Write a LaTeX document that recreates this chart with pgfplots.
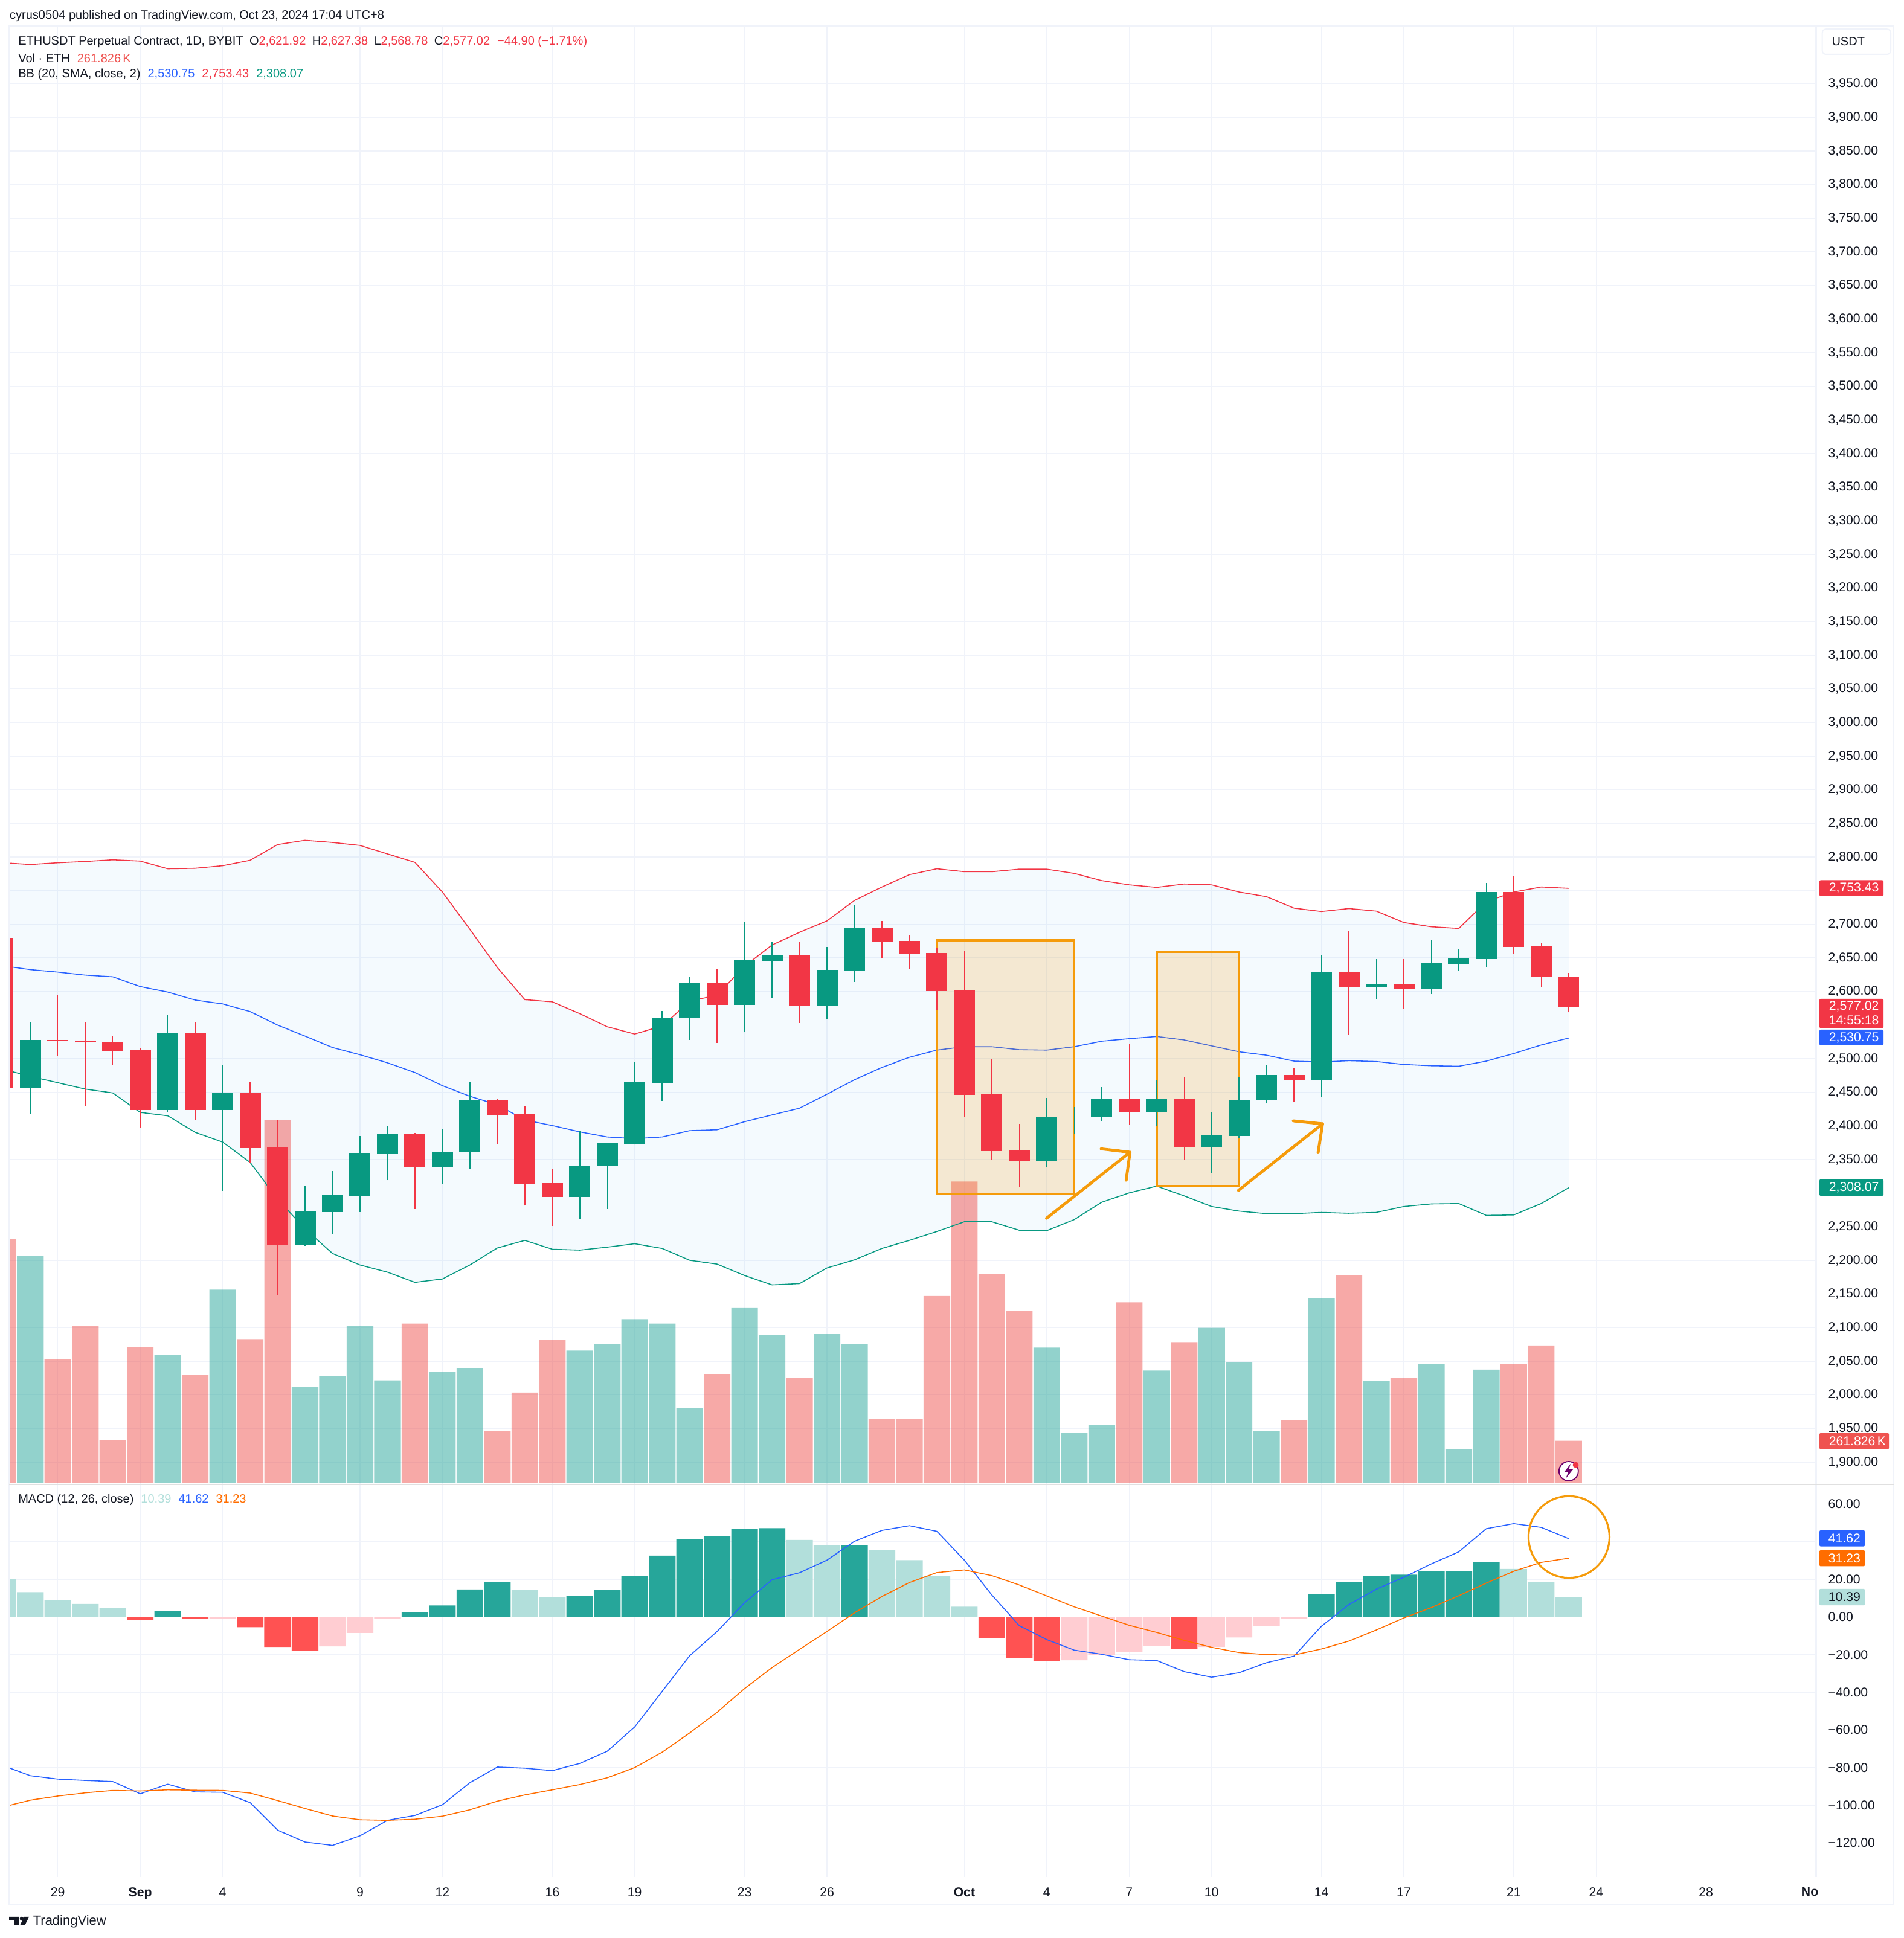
\documentclass[border=0pt]{standalone}
\usepackage{fontspec}
\setmainfont{Liberation Sans}
\usepackage{pgfplots}
\usepackage{pgfplotstable}
\pgfplotsset{compat=1.18}
\definecolor{cgreen}{HTML}{089981}
\definecolor{cred}{HTML}{F23645}
\definecolor{cblue}{HTML}{2962FF}
\definecolor{corange}{HTML}{FF6D00}
\definecolor{ctext}{HTML}{131722}
\definecolor{cgrid}{HTML}{F0F3FA}
\definecolor{cband}{HTML}{2196F3}
\definecolor{vgreen}{HTML}{26A69A}
\definecolor{vred}{HTML}{EF5350}
\definecolor{hdg}{HTML}{26A69A}
\definecolor{hlg}{HTML}{B2DFDB}
\definecolor{hdr}{HTML}{FF5252}
\definecolor{hlr}{HTML}{FFCDD2}
\definecolor{cann}{HTML}{F59B0B}
\newcommand\tvf{\fontsize{5.3pt}{6.5pt}\selectfont}
\newcommand\hdf{\fontsize{5.0pt}{6.5pt}\selectfont}
% candles: i low bodybottom bodytop high
\pgfplotstableread{
i lo bot top hi
0 2418.3 2456.1 2527.9 2555.0
5 2421.4 2423.9 2538.0 2565.7
7 2303.5 2423.9 2449.8 2490.1
10 2221.6 2223.5 2272.7 2311.1
11 2239.3 2272.0 2297.2 2333.2
12 2272.0 2296.0 2359.0 2384.8
13 2319.3 2358.4 2388.6 2399.3
15 2314.3 2339.5 2361.5 2395.0
16 2336.3 2360.9 2439.1 2466.2
20 2261.9 2294.1 2341.4 2393.0
21 2276.4 2340.1 2374.1 2375.4
22 2372.2 2373.5 2464.9 2494.5
23 2437.2 2464.3 2561.3 2571.4
24 2527.9 2560.0 2612.4 2622.5
26 2539.3 2580.2 2646.4 2703.8
27 2591.0 2645.8 2654.0 2673.5
29 2558.2 2579.0 2631.9 2666.6
30 2614.3 2631.3 2694.3 2729.0
37 2338.2 2348.3 2413.8 2441.6
38 2388.0 2413.2 2413.8 2428.3
39 2406.9 2413.2 2439.7 2457.9
41 2399.3 2420.8 2439.7 2467.4
43 2329.4 2369.1 2386.1 2420.8
44 2381.1 2384.8 2439.1 2473.1
45 2433.4 2437.8 2475.6 2490.1
47 2442.8 2467.4 2629.4 2654.6
49 2589.0 2606.1 2610.5 2648.3
51 2596.0 2604.2 2642.0 2677.3
52 2631.3 2641.4 2648.9 2663.4
53 2635.7 2648.3 2747.9 2761.7
}\candlegreen
\pgfplotstableread{
i lo bot top hi
-1 2456.1 2456.1 2679.8 2679.8
1 2504.6 2526.0 2527.9 2595.4
2 2429.6 2524.1 2527.3 2555.0
3 2491.4 2511.5 2525.4 2534.2
4 2397.4 2423.9 2512.8 2515.9
6 2409.4 2423.9 2538.0 2553.8
8 2345.8 2367.2 2449.8 2464.9
9 2149.1 2223.5 2367.8 2408.8
14 2276.4 2339.5 2388.6 2389.3
17 2373.5 2416.4 2439.1 2441.0
18 2281.5 2314.3 2417.6 2429.6
19 2251.2 2294.1 2314.9 2335.7
25 2523.5 2580.2 2612.4 2633.2
28 2553.1 2579.0 2654.0 2674.1
31 2648.9 2674.1 2694.3 2705.0
32 2633.8 2656.5 2675.4 2683.6
33 2572.7 2600.4 2657.1 2664.1
34 2413.2 2446.0 2601.7 2660.3
35 2350.2 2362.8 2447.2 2498.9
36 2309.9 2348.3 2363.4 2403.1
40 2401.9 2420.8 2439.7 2521.6
42 2350.2 2369.1 2439.7 2473.1
46 2435.3 2467.4 2475.6 2485.7
48 2536.1 2606.1 2629.4 2689.9
50 2574.6 2604.2 2610.5 2648.3
54 2656.5 2666.6 2747.9 2771.2
55 2606.1 2621.2 2667.2 2672.9
56 2568.78 2577.02 2621.92 2627.38
}\candlered
% Bollinger bands
\pgfplotstableread{
i up mid low
-1 2791.4 2638.2 2484.4
0 2788.8 2632.5 2473.7
1 2791.4 2628.8 2464.3
2 2793.3 2624.3 2454.8
3 2795.8 2621.8 2449.1
4 2793.9 2607.3 2420.1
5 2782.5 2599.1 2415.1
6 2783.2 2587.2 2390.5
7 2787.0 2581.5 2376.0
8 2795.1 2570.1 2345.8
9 2818.5 2550.0 2291.0
10 2824.8 2533.6 2246.8
11 2821.6 2516.6 2210.3
12 2817.2 2505.9 2193.2
13 2804.6 2493.9 2182.5
14 2792.0 2479.4 2167.4
15 2747.9 2459.9 2172.4
16 2692.4 2444.1 2193.2
17 2635.7 2431.5 2218.5
18 2587.8 2408.8 2229.8
19 2584.6 2400.6 2216.6
20 2567.0 2391.2 2215.3
21 2547.5 2383.6 2219.7
22 2536.7 2381.1 2224.8
23 2548.7 2383.6 2217.8
24 2585.3 2393.0 2200.2
25 2594.7 2394.3 2194.5
26 2637.6 2406.3 2177.5
27 2669.1 2416.4 2163.6
28 2688.0 2426.4 2165.5
29 2705.0 2447.2 2188.8
30 2735.3 2468.7 2200.8
31 2755.4 2487.0 2217.8
32 2773.7 2502.1 2229.8
33 2782.5 2512.8 2243.0
34 2778.1 2517.8 2257.5
35 2778.1 2517.8 2257.5
36 2781.9 2513.4 2244.9
37 2781.9 2512.8 2244.3
38 2775.6 2517.8 2260.7
39 2764.9 2526.0 2286.5
40 2758.6 2529.8 2300.4
41 2754.8 2533.0 2310.5
42 2759.8 2527.9 2296.0
43 2758.6 2519.1 2280.2
44 2747.9 2510.3 2273.3
45 2741.0 2505.2 2269.5
46 2723.9 2496.4 2269.5
47 2718.9 2495.1 2271.4
48 2723.3 2497.0 2270.1
49 2719.5 2495.8 2271.4
50 2702.5 2491.4 2280.2
51 2696.2 2489.5 2284.0
52 2693.7 2488.8 2284.6
53 2733.4 2496.4 2267.0
54 2747.9 2507.7 2267.6
55 2755.4 2520.4 2284.6
56 2753.43 2530.75 2308.07
}\bands
% outline of the band: upper forward, lower back
\pgfplotstableread{
i v
-1 2791.4
0 2788.8
1 2791.4
2 2793.3
3 2795.8
4 2793.9
5 2782.5
6 2783.2
7 2787.0
8 2795.1
9 2818.5
10 2824.8
11 2821.6
12 2817.2
13 2804.6
14 2792.0
15 2747.9
16 2692.4
17 2635.7
18 2587.8
19 2584.6
20 2567.0
21 2547.5
22 2536.7
23 2548.7
24 2585.3
25 2594.7
26 2637.6
27 2669.1
28 2688.0
29 2705.0
30 2735.3
31 2755.4
32 2773.7
33 2782.5
34 2778.1
35 2778.1
36 2781.9
37 2781.9
38 2775.6
39 2764.9
40 2758.6
41 2754.8
42 2759.8
43 2758.6
44 2747.9
45 2741.0
46 2723.9
47 2718.9
48 2723.3
49 2719.5
50 2702.5
51 2696.2
52 2693.7
53 2733.4
54 2747.9
55 2755.4
56 2753.43
56 2308.07
55 2284.6
54 2267.6
53 2267.0
52 2284.6
51 2284.0
50 2280.2
49 2271.4
48 2270.1
47 2271.4
46 2269.5
45 2269.5
44 2273.3
43 2280.2
42 2296.0
41 2310.5
40 2300.4
39 2286.5
38 2260.7
37 2244.3
36 2244.9
35 2257.5
34 2257.5
33 2243.0
32 2229.8
31 2217.8
30 2200.8
29 2188.8
28 2165.5
27 2163.6
26 2177.5
25 2194.5
24 2200.2
23 2217.8
22 2224.8
21 2219.7
20 2215.3
19 2216.6
18 2229.8
17 2218.5
16 2193.2
15 2172.4
14 2167.4
13 2182.5
12 2193.2
11 2210.3
10 2246.8
9 2291.0
8 2345.8
7 2376.0
6 2390.5
5 2415.1
4 2420.1
3 2449.1
2 2454.8
1 2464.3
0 2473.7
-1 2484.4
}\bandpoly
% Volume (thousands of ETH)
\pgfplotstableread{
i v
0 1398.4
5 787.9
7 1192.3
10 594.9
11 657.5
12 970.5
13 634.0
15 683.6
16 709.6
20 816.6
21 858.4
22 1009.7
23 983.6
24 464.4
26 1082.7
27 910.5
29 918.4
30 855.8
37 834.9
38 310.5
39 360.0
41 694.0
43 957.5
44 743.6
45 323.5
47 1140.1
49 631.4
51 733.1
52 208.7
53 699.2
}\volgreen
\pgfplotstableread{
i v
-1 1505.4
1 761.8
2 970.5
3 263.5
4 840.1
6 665.3
8 887.1
9 2238.5
14 983.6
17 323.5
18 558.3
19 881.8
25 673.1
28 647.0
31 394.0
32 396.6
33 1153.2
34 1857.6
35 1288.8
36 1061.9
40 1114.0
42 868.8
46 386.1
48 1278.4
50 649.6
54 735.7
55 847.9
56 261.826
}\volred
% MACD histogram
\pgfplotstableread{
i v
5 3.0
14 2.4
15 6.1
16 14.6
17 18.4
20 11.3
21 14.2
22 21.9
23 32.6
24 41.3
25 43.1
26 46.6
27 47.2
30 38.3
47 12.3
48 18.7
49 21.9
50 22.5
51 24.3
52 24.3
53 29.3
}\histdg
\pgfplotstableread{
i v
-1 20.3
0 13.2
1 9.1
2 6.9
3 4.9
18 14.2
19 10.4
28 40.9
29 38.0
31 35.4
32 30.2
33 21.9
34 5.5
54 25.5
55 18.7
56 10.39
}\histlg
\pgfplotstableread{
i v
4 -1.4
6 -1.1
8 -5.4
9 -15.9
10 -17.8
35 -11.2
36 -21.7
37 -23.3
42 -16.9
}\histdr
\pgfplotstableread{
i v
7 -0.8
11 -15.6
12 -8.5
13 -0.8
38 -23.0
39 -20.2
40 -18.6
41 -15.3
43 -15.9
44 -10.9
45 -4.7
46 -0.8
}\histlr
% MACD and signal lines
\pgfplotstableread{
i macd sig
-1 -78.9 -100.9
0 -84.3 -97.3
1 -86.1 -95.1
2 -86.8 -93.4
3 -87.4 -92.1
4 -93.9 -92.4
5 -88.8 -91.8
6 -92.9 -92.0
7 -93.1 -92.1
8 -98.6 -93.5
9 -113.2 -97.5
10 -119.5 -101.7
11 -121.3 -105.7
12 -116.2 -107.7
13 -108.0 -108.0
14 -105.4 -107.4
15 -99.7 -105.8
16 -88.0 -102.4
17 -79.7 -97.8
18 -80.3 -94.5
19 -81.6 -91.8
20 -77.8 -89.0
21 -71.3 -85.4
22 -58.4 -80.0
23 -39.5 -71.8
24 -20.6 -61.6
25 -7.7 -50.6
26 7.6 -38.0
27 19.8 -26.9
28 23.5 -17.2
29 30.2 -7.7
30 40.2 2.2
31 46.0 10.9
32 48.5 18.3
33 45.5 23.6
34 30.2 25.0
35 11.7 22.0
36 -4.6 17.0
37 -12.0 11.2
38 -17.6 5.4
39 -19.8 0.5
40 -22.7 -4.4
41 -23.1 -8.2
42 -29.0 -12.4
43 -32.0 -16.1
44 -29.6 -18.9
45 -24.3 -20.0
46 -20.8 -20.2
47 -4.9 -17.0
48 6.6 -12.8
49 14.8 -6.9
50 21.1 -0.5
51 28.2 5.0
52 34.6 11.3
53 46.9 18.0
54 49.6 24.3
55 47.6 29.0
56 41.62 31.23
}\macdlines
\pgfplotsset{
  pane/.style={
    scale only axis, width=747.9pt,
    xmin=-0.767, xmax=65.02,
    axis line style={draw=none},
    major tick length=0pt,
    tick style={draw=none},
    grid=major,
    major grid style={draw=cgrid,line width=0.35pt},
    xtick={1,4,7,12,15,19,22,26,29,34,37,40,43,47,50,54,57,61,65},
    tick label style={font=\tvf,text=ctext},
    ytick pos=right, yticklabel pos=right,
    yticklabel style={anchor=west,inner sep=0pt,xshift=4.7pt},
  },
  overpane/.style={
    scale only axis, width=747.9pt, height=603.75pt,
    at={(3.85pt,187.75pt)}, anchor=south west,
    xmin=-0.767, xmax=65.02,
    hide axis,
  },
  wick/.style={draw=none,forget plot,
    error bars/.cd,y dir=plus,y explicit,error mark=none,
    error bar style={draw=#1,line width=0.36pt}},
  body/.style={draw=none,forget plot,
    error bars/.cd,y dir=plus,y explicit,error mark=none,
    error bar style={draw=#1,line width=8.75pt}},
  vbar/.style={ybar,bar width=0.97,bar shift=0pt,draw=none,fill=#1,forget plot},
}
\tikzset{px/.style={shift={(0,802.25pt)},x=0.25pt,y=-0.25pt}}
\begin{document}
\begin{tikzpicture}
\useasboundingbox (0,0) rectangle (787.75pt,802.25pt);
% price pane: grid and band
\begin{axis}[pane,
  height=603.75pt, at={(3.85pt,187.75pt)}, anchor=south west,
  ymin=1866.8, ymax=4036,
  ytick={1900,1950,...,2250,2350,2400,2450,2500,2600,2650,2700,2800,2850,...,3950},
  extra y ticks={2300,2550,2750},
  extra y tick labels={},
  extra y tick style={grid=major},
  xticklabels={},
  /pgf/number format/assume math mode=true,
  /pgf/number format/fixed,/pgf/number format/fixed zerofill,
  /pgf/number format/precision=2,/pgf/number format/1000 sep={,},
  scaled y ticks=false,
]
\addplot[fill=cband,fill opacity=0.05,draw=none,forget plot] table[x=i,y=v]{\bandpoly} -- cycle;
\end{axis}
% volume
\begin{axis}[overpane,ymin=-7.4,ymax=8974]
\addplot[vbar=vgreen,opacity=0.5] table[x=i,y=v]{\volgreen};
\addplot[vbar=vred,opacity=0.5] table[x=i,y=v]{\volred};
\end{axis}
% bands
\begin{axis}[overpane,ymin=1866.8,ymax=4036]
\addplot[cred,densely dotted,line width=0.25pt,opacity=0.7] coordinates {(-1,2577.02) (66,2577.02)};
\addplot[cred,line width=0.4pt] table[x=i,y=up]{\bands};
\addplot[cblue,line width=0.4pt] table[x=i,y=mid]{\bands};
\addplot[cgreen,line width=0.4pt] table[x=i,y=low]{\bands};
\end{axis}
% the two drawn boxes lie under the candles
\begin{scope}[px]
 \fill[cann,opacity=0.18] (1551.4,1557.1) rectangle (1778.7,1977.3);
 \draw[cann,line width=0.8pt] (1551.4,1557.1) rectangle (1778.7,1977.3);
 \fill[cann,opacity=0.18] (1915.5,1576) rectangle (2051.6,1963.3);
 \draw[cann,line width=0.8pt] (1915.5,1576) rectangle (2051.6,1963.3);
\end{scope}
% candles
\begin{axis}[overpane,ymin=1866.8,ymax=4036]
\addplot[wick=cgreen] table[x=i,y=lo,y error plus expr=\thisrow{hi}-\thisrow{lo}]{\candlegreen};
\addplot[wick=cred] table[x=i,y=lo,y error plus expr=\thisrow{hi}-\thisrow{lo}]{\candlered};
\addplot[body=cgreen] table[x=i,y=bot,y error plus expr=\thisrow{top}-\thisrow{bot}]{\candlegreen};
\addplot[body=cred] table[x=i,y=bot,y error plus expr=\thisrow{top}-\thisrow{bot}]{\candlered};
\end{axis}
% MACD pane
\begin{axis}[pane,
  height=162.5pt, at={(3.85pt,25.25pt)}, anchor=south west,
  ymin=-138.1, ymax=70.4,
  ytick={-120,-100,-80,-60,-40,-20,0,20,40,60},
  yticklabels={−120.00,−100.00,−80.00,−60.00,−40.00,−20.00,0.00,20.00,,60.00},
  xticklabels={29,\textbf{Sep},4,9,12,16,19,23,26,\textbf{Oct},4,7,10,14,17,21,24,28,},
  xticklabel style={inner sep=0pt,yshift=-4.2pt},
]
\addplot[color=black!45,dash pattern=on 1.2pt off 1pt,line width=0.22pt] coordinates {(-1,0) (66,0)};
\addplot[vbar=hdg] table[x=i,y=v]{\histdg};
\addplot[vbar=hlg] table[x=i,y=v]{\histlg};
\addplot[vbar=hdr] table[x=i,y=v]{\histdr};
\addplot[vbar=hlr] table[x=i,y=v]{\histlr};
\addplot[cblue,line width=0.4pt] table[x=i,y=macd]{\macdlines};
\addplot[corange,line width=0.4pt] table[x=i,y=sig]{\macdlines};
\end{axis}
% annotations and chrome, in reference pixels
\begin{scope}[px,font=\tvf,text=ctext]
 % frame
 \draw[cgrid,line width=0.7pt] (15,43) rectangle (3135,3153);
 \draw[cgrid,line width=0.35pt] (3007,43) -- (3007,3108);
 \draw[black!12,line width=0.3pt] (15,2458) -- (3135,2458);
 % drawings
 \draw[cann,line width=1.2pt,line cap=round,line join=round] (1732.4,2017.3) -- (1870.6,1907.9);
 \draw[cann,line width=1.2pt,line cap=round,line join=round] (1822.9,1902.3) -- (1870.6,1907.9) -- (1864.3,1954.2);
 \draw[cann,line width=1.2pt,line cap=round,line join=round] (2050.2,1971) -- (2189.4,1860.9);
 \draw[cann,line width=1.2pt,line cap=round,line join=round] (2140.9,1856) -- (2189.4,1860.9) -- (2182,1908.6);
 \draw[cann,line width=0.8pt] (2597.4,2545) ellipse [x radius=67,y radius=67.7];
 % lightning icon
 \draw[fill=white,draw=violet!85!black,line width=0.45pt] (2596.8,2436) circle (16);
 \fill[violet!85!black] (2600,2424) -- (2589,2438) -- (2596,2438) -- (2592,2448) -- (2604,2433) -- (2597,2433) -- cycle;
 \fill[cred] (2608.5,2425.6) circle (5);
 % header
 \node[anchor=west,inner sep=0pt,font=\hdf] at (15.4,26) {cyrus0504 published on TradingView.com, Oct 23, 2024 17:04 UTC+8};
 \node[anchor=west,inner sep=0pt,font=\hdf] at (29.5,69) {ETHUSDT Perpetual Contract, 1D, BYBIT\hspace{2.6pt}O\textcolor{cred}{2,621.92}\hspace{2.6pt}H\textcolor{cred}{2,627.38}\hspace{2.6pt}L\textcolor{cred}{2,568.78}\hspace{2.6pt}C\textcolor{cred}{2,577.02}\hspace{3pt}\textcolor{cred}{−44.90 (−1.71\%)}};
 \node[anchor=west,inner sep=0pt,font=\hdf] at (29.5,96.7) {Vol · ETH\hspace{3pt}\textcolor{vred}{261.826\,K}};
 \node[anchor=west,inner sep=0pt,font=\hdf] at (29.5,123) {BB (20, SMA, close, 2)\hspace{3pt}\textcolor{cblue}{2,530.75}\hspace{3pt}\textcolor{cred}{2,753.43}\hspace{3pt}\textcolor{cgreen}{2,308.07}};
 \node[anchor=west,inner sep=0pt,font=\hdf] at (29.5,2483) {MACD (12, 26, close)\hspace{3pt}\textcolor{hlg}{10.39}\hspace{3pt}\textcolor{cblue}{41.62}\hspace{3pt}\textcolor{corange}{31.23}};
 % USDT box
 \draw[cgrid,line width=0.5pt,rounded corners=1.5pt,fill=white] (3016.7,48.3) rectangle (3130,90);
 \node[anchor=west,inner sep=0pt,font=\hdf] at (3031.7,69) {USDT};
 % tags
 \fill[cred,rounded corners=0.5pt] (3012,1457.5) rectangle (3118,1484);
 \node[anchor=west,inner sep=0pt,text=white] at (3027,1470.9) {2,753.43};
 \fill[cred,rounded corners=0.5pt] (3012,1654) rectangle (3118,1702.3);
 \node[anchor=west,inner sep=0pt,text=white] at (3027,1666.6) {2,577.02};
 \node[anchor=west,inner sep=0pt,text=white] at (3027,1689) {14:55:18};
 \fill[cblue,rounded corners=0.5pt] (3012,1705) rectangle (3118,1731);
 \node[anchor=west,inner sep=0pt,text=white] at (3027,1718) {2,530.75};
 \fill[cgreen,rounded corners=0.5pt] (3012,1952.8) rectangle (3118,1980);
 \node[anchor=west,inner sep=0pt,text=white] at (3027,1966.4) {2,308.07};
 \fill[vred,rounded corners=0.5pt] (3012,2373) rectangle (3127,2399.6);
 \node[anchor=west,inner sep=0pt,text=white] at (3027,2386.3) {261.826\,K};
 \fill[cblue,rounded corners=0.5pt] (3012,2534) rectangle (3087,2560.6);
 \node[anchor=west,inner sep=0pt,text=white] at (3026,2547.3) {41.62};
 \fill[corange,rounded corners=0.5pt] (3012,2567) rectangle (3087,2593.5);
 \node[anchor=west,inner sep=0pt,text=white] at (3026,2580.3) {31.23};
 \fill[hlg,rounded corners=0.5pt] (3012,2630.8) rectangle (3087,2658.2);
 \node[anchor=west,inner sep=0pt] at (3026,2644.5) {10.39};
 % clipped Nov tick label
 \node[anchor=east,inner sep=0pt] at (3011,3132.5) {\textbf{No}};
 % logo
 \fill[ctext] (15,3174) -- (31,3174) -- (31,3188) -- (24,3188) -- (24,3180) -- (15,3180) -- cycle;
 \fill[ctext] (36,3177) circle (3.3);
 \fill[ctext] (48,3174) -- (41,3188) -- (33,3188) -- (40,3174) -- cycle;
 \node[anchor=west,inner sep=0pt] at (54,3182) {\fontsize{5.5pt}{7pt}\selectfont TradingView};
\end{scope}
\end{tikzpicture}
\end{document}
